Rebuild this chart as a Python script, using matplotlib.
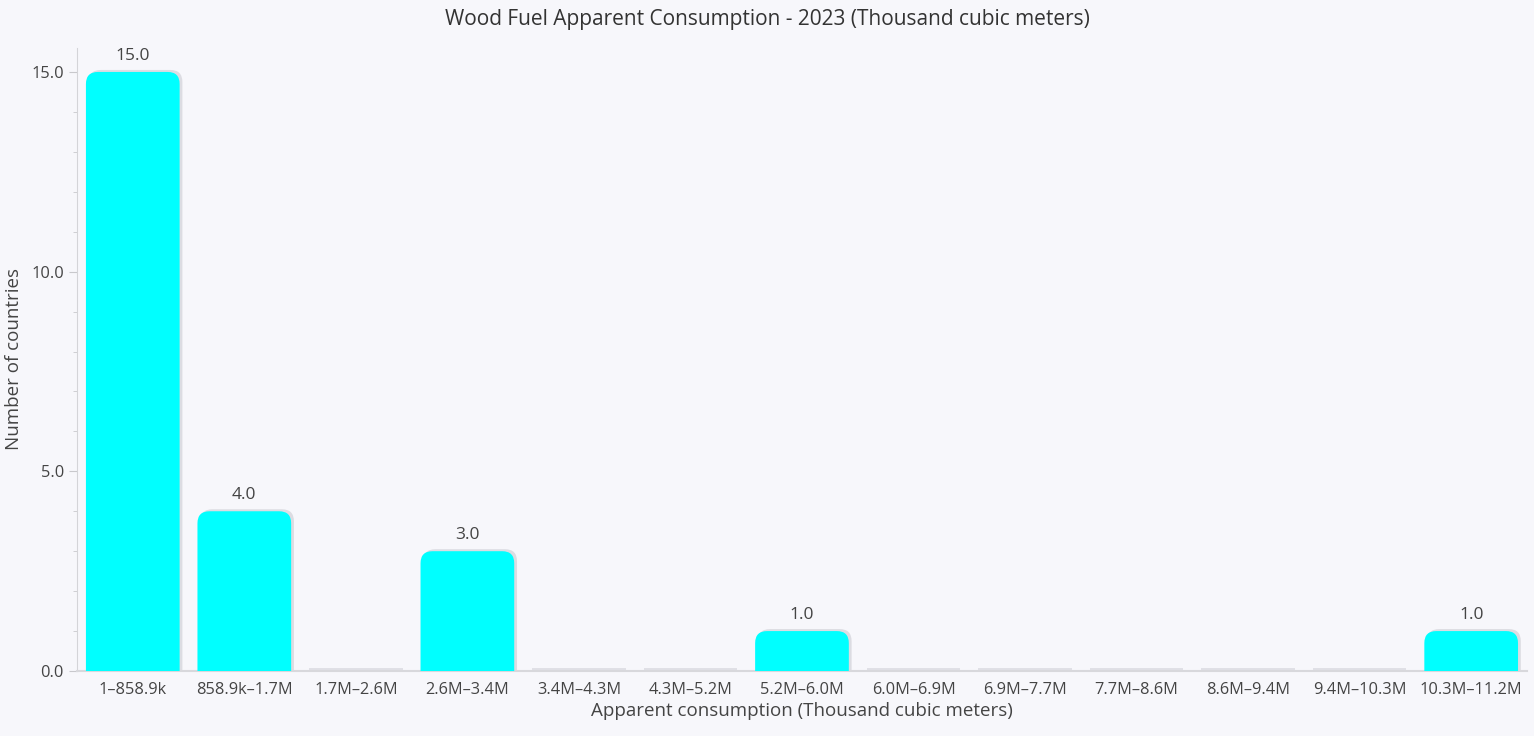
import numpy as np
import matplotlib.pyplot as plt
from matplotlib.patches import FancyBboxPatch, Rectangle
from matplotlib.ticker import MultipleLocator, FormatStrFormatter

plt.rcParams['font.family'] = ['Open Sans', 'DejaVu Sans']

bins = ['1\u2013858.9k', '858.9k\u20131.7M', '1.7M\u20132.6M', '2.6M\u20133.4M',
        '3.4M\u20134.3M', '4.3M\u20135.2M', '5.2M\u20136.0M', '6.0M\u20136.9M',
        '6.9M\u20137.7M', '7.7M\u20138.6M', '8.6M\u20139.4M', '9.4M\u201310.3M',
        '10.3M\u201311.2M']
counts = [15, 4, 0, 3, 0, 0, 1, 0, 0, 0, 0, 0, 1]

bg = '#f7f7fb'
fig = plt.figure(figsize=(15.34, 7.36), dpi=100, facecolor=bg)
ax = fig.add_axes([0.0502, 0.0883, 0.9452, 0.8465], facecolor=bg)

n = len(bins)
ax.set_xlim(-0.5, n - 0.5)
ax.set_ylim(0, 15.6)

# px per data unit, for rounding the tops
bb = ax.get_window_extent()
xpx = bb.width / n
ypx = bb.height / 15.6
aspect = xpx / ypx
w = 0.84
r = 12 / xpx

for i, c in enumerate(counts):
    # soft shadow
    sh = FancyBboxPatch((i - w / 2 + 0.025, -1), w, c + 1 + 2 / ypx,
                        boxstyle='round,pad=0,rounding_size=%f' % r,
                        mutation_aspect=aspect, fc='#d6d6dc', ec='none',
                        alpha=0.8, zorder=2)
    ax.add_patch(sh)
    if c > 0:
        p = FancyBboxPatch((i - w / 2, -1), w, c + 1,
                           boxstyle='round,pad=0,rounding_size=%f' % r,
                           mutation_aspect=aspect, fc='#00ffff', ec='none',
                           zorder=3)
        ax.add_patch(p)
        ax.text(i, c + 0.2, '%.1f' % c, ha='center', va='bottom',
                fontsize=12.5, color='#444444', zorder=4)
    else:
        ax.add_patch(Rectangle((i - w / 2, 0), w, 3 / ypx, fc='#e0e0e6',
                               ec='none', zorder=2, clip_on=False))

ax.set_xticks(range(n))
ax.set_xticklabels(bins)
ax.yaxis.set_major_locator(MultipleLocator(5))
ax.yaxis.set_minor_locator(MultipleLocator(1))
ax.yaxis.set_major_formatter(FormatStrFormatter('%.1f'))
ax.tick_params(axis='x', length=0, labelsize=11.8, labelcolor='#444444', pad=8)
ax.tick_params(axis='y', which='major', length=6, color='#c8c8cc',
               labelsize=11.8, labelcolor='#444444')
ax.tick_params(axis='y', which='minor', length=3, color='#c8c8cc')

for s in ['top', 'right']:
    ax.spines[s].set_visible(False)
ax.spines['left'].set_color('#d4d4d8')
ax.spines['bottom'].set_color('#d8d8dc')
ax.spines['bottom'].set_linewidth(1.5)

fig.text(0.5, 1 - 20 / 736, 'Wood Fuel Apparent Consumption - 2023 (Thousand cubic meters)',
         ha='center', va='center', fontsize=15, color='#333333')
ax.set_xlabel('Apparent consumption (Thousand cubic meters)', fontsize=13.5,
              color='#444444', labelpad=3)
ax.set_ylabel('Number of countries', fontsize=13.5, color='#444444', labelpad=6)

fig.savefig('out.png', dpi=100, facecolor=bg)
